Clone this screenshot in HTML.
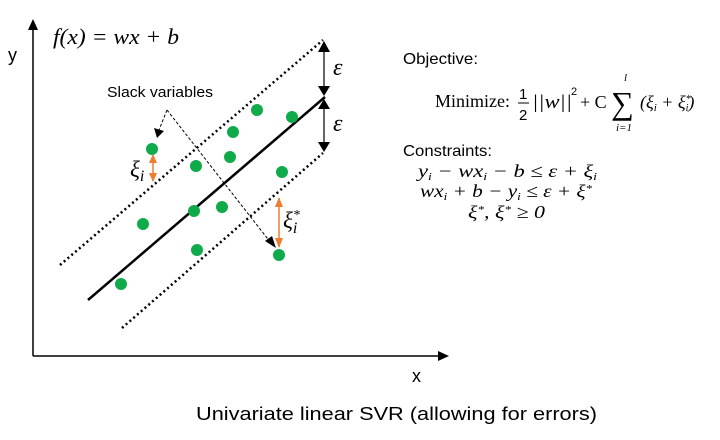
<!DOCTYPE html>
<html><head><style>
body{margin:0;background:#fff;}
svg{display:block}
.s{font-family:"Liberation Sans",sans-serif;}
.m{font-family:"Liberation Serif",serif;font-style:italic;}
</style></head><body>
<svg width="720" height="440" viewBox="0 0 720 440">
<line x1="33" y1="356" x2="33" y2="28" stroke="#000" stroke-width="1.5"/>
<path d="M28,30 L33,19 L38,30z"/>
<line x1="33" y1="356" x2="440" y2="356" stroke="#000" stroke-width="1.5"/>
<path d="M438,351 L449,356 L438,361z"/>
<text x="8" y="61" class="s" font-size="18">y</text>
<text x="412" y="382" class="s" font-size="18">x</text>
<text x="196" y="420" class="s" font-size="18" textLength="401" lengthAdjust="spacingAndGlyphs">Univariate linear SVR (allowing for errors)</text>
<text x="53" y="44" class="m" font-size="22" textLength="126" lengthAdjust="spacingAndGlyphs">f(x) = wx + b</text>
<line x1="60" y1="265" x2="323" y2="40" stroke="#000" stroke-width="2.5" stroke-dasharray="2,3"/>
<line x1="122" y1="328" x2="323" y2="153" stroke="#000" stroke-width="2.5" stroke-dasharray="2,3"/>
<line x1="88" y1="300" x2="325" y2="97" stroke="#000" stroke-width="2.5"/>
<line x1="324" y1="44" x2="324" y2="93" stroke="#333" stroke-width="1.5"/>
<path d="M318,52 L324,41 L330,52z M318,86 L324,96 L330,86z"/>
<line x1="324" y1="101" x2="324" y2="149" stroke="#333" stroke-width="1.5"/>
<path d="M318,109 L324,99 L330,109z M318,142 L324,152 L330,142z"/>
<text x="333" y="75" class="m" font-size="24">ε</text>
<text x="333" y="131" class="m" font-size="24">ε</text>
<text x="107" y="97" class="s" font-size="15" textLength="106" lengthAdjust="spacingAndGlyphs">Slack variables</text>
<path d="M167,110 L159,130" stroke="#000" stroke-dasharray="3,2" fill="none"/>
<path d="M154,128 L157,138 L164,131z"/>
<path d="M167,110 L271,243" stroke="#000" stroke-dasharray="3,2" fill="none"/>
<path d="M265,241 L276,248 L272,236z"/>
<g fill="#0fab4a">
<circle cx="121" cy="284" r="6"/><circle cx="152" cy="149" r="6"/><circle cx="143" cy="224" r="6"/>
<circle cx="196" cy="166" r="6"/><circle cx="194" cy="211" r="6"/><circle cx="197" cy="250" r="6"/>
<circle cx="222" cy="207" r="6"/><circle cx="230" cy="157" r="6"/><circle cx="233" cy="132" r="6"/>
<circle cx="257" cy="110" r="6"/><circle cx="292" cy="117" r="6"/><circle cx="282" cy="172" r="6"/>
<circle cx="279" cy="255" r="6"/>
</g>
<line x1="153" y1="155" x2="153" y2="181" stroke="#ed7d31" stroke-width="1.5"/>
<path d="M149,163 L153,154 L157,163z M149,173 L153,182 L157,173z" fill="#ed7d31"/>
<line x1="279" y1="198" x2="279" y2="247" stroke="#ed7d31" stroke-width="1.5"/>
<path d="M275,207 L279,197 L283,207z M275,238 L279,248 L283,238z" fill="#ed7d31"/>
<text x="130" y="177" class="m" font-size="23">ξ<tspan font-size="16" dy="4">i</tspan></text>
<text x="283" y="228" class="m" font-size="23">ξ<tspan font-size="14" dy="-9">*</tspan><tspan font-size="16" dx="-7" dy="14">i</tspan></text>
<text x="403" y="64" class="s" font-size="16" textLength="75" lengthAdjust="spacingAndGlyphs">Objective:</text>
<text x="435" y="107" font-family="Liberation Serif,serif" font-size="18" textLength="75" lengthAdjust="spacingAndGlyphs">Minimize:</text>
<text x="519" y="99" class="s" font-size="15">1</text>
<line x1="518" y1="103" x2="529" y2="103" stroke="#000"/>
<text x="519" y="120" class="s" font-size="15">2</text>
<text x="532" y="108" class="m" font-size="19" textLength="40" lengthAdjust="spacingAndGlyphs">||w||</text>
<text x="571" y="95" class="s" font-size="11">2</text>
<text x="580" y="108" font-family="Liberation Serif,serif" font-size="18">+ C</text>
<text x="611" y="114" font-family="Liberation Serif,serif" font-size="32">∑</text>
<text x="624" y="81" class="m" font-size="11">l</text>
<text x="616" y="131" class="m" font-size="11">i=1</text>
<text x="640" y="108" class="m" font-size="18">(ξ<tspan font-size="11" dy="3">i</tspan><tspan dy="-3"> + ξ</tspan><tspan font-size="10" dy="-6">*</tspan><tspan font-size="10" dx="-5" dy="9">i</tspan><tspan dy="-3">)</tspan></text>
<text x="403" y="156" class="s" font-size="16" textLength="89" lengthAdjust="spacingAndGlyphs">Constraints:</text>
<text x="418" y="177" class="m" font-size="18" textLength="179" lengthAdjust="spacingAndGlyphs">y<tspan font-size="11" dy="3">i</tspan><tspan dy="-3"> − wx</tspan><tspan font-size="11" dy="3">i</tspan><tspan dy="-3"> − b ≤  ε + ξ</tspan><tspan font-size="11" dy="3">i</tspan></text>
<text x="420" y="197" class="m" font-size="18" textLength="172" lengthAdjust="spacingAndGlyphs">wx<tspan font-size="11" dy="3">i</tspan><tspan dy="-3"> + b − y</tspan><tspan font-size="11" dy="3">i</tspan><tspan dy="-3"> ≤  ε + ξ</tspan><tspan font-size="11" dy="-5">*</tspan></text>
<text x="468" y="218" class="m" font-size="18" textLength="77" lengthAdjust="spacingAndGlyphs">ξ<tspan font-size="11" dy="-5">*</tspan><tspan dy="5">, ξ</tspan><tspan font-size="11" dy="-5">*</tspan><tspan dy="5">  ≥ 0</tspan></text>
</svg>
</body></html>
